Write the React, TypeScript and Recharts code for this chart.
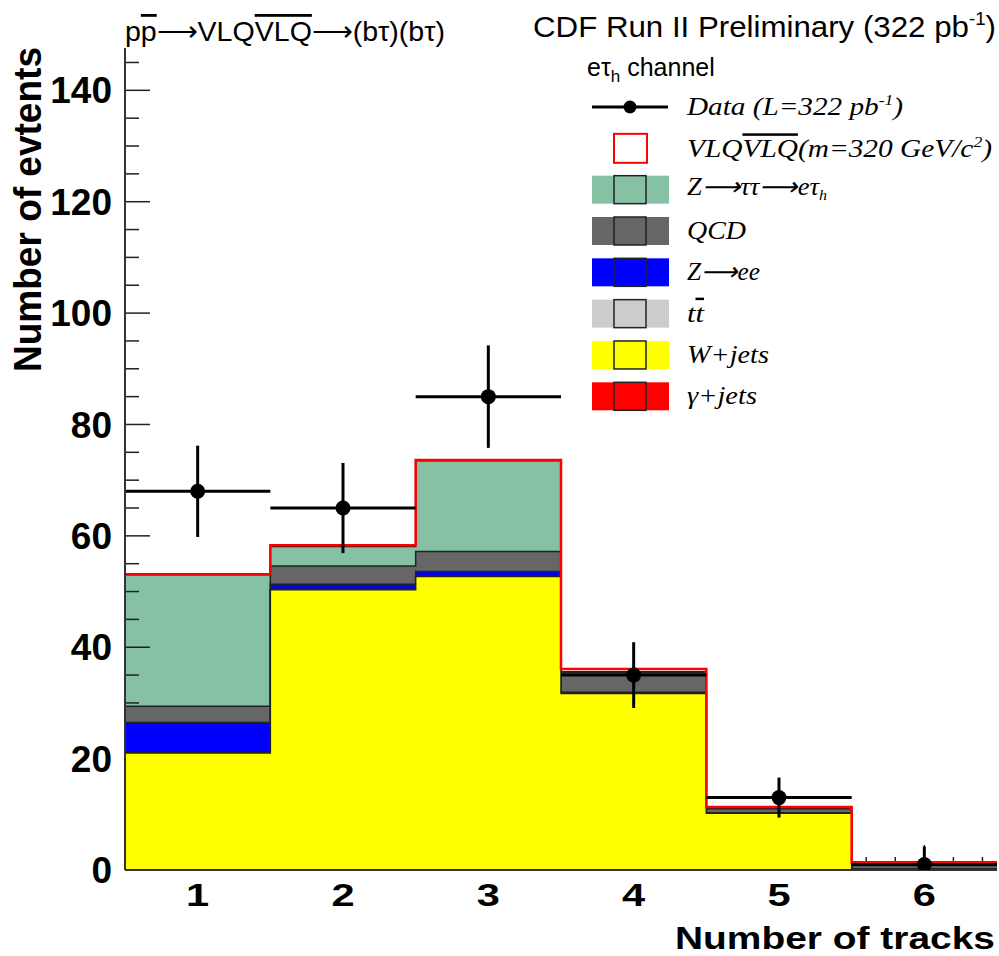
import React from "react";
import { ComposedChart, Area, Line, Scatter, ErrorBar, XAxis, YAxis } from "recharts";

// bin centres (number of tracks)
const bins = [1, 2, 3, 4, 5, 6];

// background components (bottom -> top)
const gammaJets = [0, 0, 0, 0, 0, 0];
const wJets = [21.0, 50.3, 52.7, 31.7, 10.2, 0.2];
const ttbar = [0.1, 0.1, 0.1, 0, 0, 0];
const zee = [5.4, 0.9, 0.8, 0.2, 0.1, 0];
const qcd = [2.9, 3.3, 3.6, 3.5, 0.7, 0.6];
const ztt = [23.6, 3.5, 16.3, 0.2, 0.1, 0.1];
const vlq = [0.1, 0.2, 0.1, 0.5, 0.2, 0.5];

// data points
const dataCounts = [68, 65, 85, 35, 13, 1];
const dataErrDown = [8.2, 8.1, 9.2, 5.9, 3.6, 1.0];
const dataErrUp = [8.2, 8.1, 9.2, 5.9, 3.6, 3.2];
const binHalfWidth = 0.5;

const yTicks = [0, 20, 40, 60, 80, 100, 120, 140];
const yMinorTicks = [5, 10, 15, 25, 30, 35, 45, 50, 55, 65, 70, 75, 85, 90, 95, 105, 110, 115, 125, 130, 135, 145];
const xTicks = [1, 2, 3, 4, 5, 6];
const xMinorTicks = [0.6, 0.8, 1.2, 1.4, 1.6, 1.8, 2.2, 2.4, 2.6, 2.8, 3.2, 3.4, 3.6, 3.8, 4.2, 4.4, 4.6, 4.8, 5.2, 5.4, 5.6, 5.8, 6.2, 6.4];
const xDomain = [0.5, 6.5];
const yDomain = [0, 147.6];

const SANS = "'Liberation Sans', Arial, Helvetica, sans-serif";
const SERIF = "'Liberation Serif', 'Times New Roman', serif";

const GREEN = "#86c1a3";
const DARK = "#666666";
const BLUE = "#0000ff";
const LIGHT = "#cccccc";
const YELLOW = "#ffff00";
const RED = "#ff0000";

// cumulative stack at bin edges, for step drawing
const layers = [gammaJets, wJets, ttbar, zee, qcd, ztt, vlq];
const layerKeys = ["gam", "wjets", "tt", "zee", "qcd", "ztt", "vlq"];
const histRows = Array.from({ length: bins.length + 1 }, (_, i) => {
  const j = Math.min(i, bins.length - 1);
  const row: { [k: string]: number } = {
    x: i < bins.length ? bins[i] - binHalfWidth : bins[j] + binHalfWidth,
  };
  let sum = 0;
  layers.forEach((arr, k) => {
    sum += arr[j];
    row[layerKeys[k]] = +sum.toFixed(2);
  });
  return row;
});

const points = bins.map((b, i) => ({
  x: b,
  y: dataCounts[i],
  yErr: [dataErrDown[i], dataErrUp[i]],
  xErr: binHalfWidth,
}));

const XTick = (props: any) => {
  const { x, y, payload } = props;
  return (
    <g transform={`translate(${x},${y})`}>
      <text x={0} y={0} dy={23} textAnchor="middle" fontSize={32} fontWeight="bold"
        fontFamily={SANS} fill="#000" transform="scale(1.3,1)">
        {payload.value}
      </text>
    </g>
  );
};
const noLabel = () => <g />;

const marker = (props: any) => <circle cx={props.cx} cy={props.cy} r={7.5} fill="#000" />;

const tickStroke = { stroke: "#222", strokeWidth: 1.5 };
const frameLine = { stroke: "#333", strokeWidth: 2 };
const histStroke = "#222";

const legendFills = [GREEN, DARK, BLUE, LIGHT, YELLOW, RED];

function Overlay() {
  const rowY = (i: number) => 107 + 41.33 * i;
  return (
    <svg width={999} height={956} style={{ position: "absolute", left: 0, top: 0, pointerEvents: "none" }}>
      {/* titles */}
      <text x={125} y={41} fontSize={28} fontFamily={SANS} fill="#000" textLength={320} lengthAdjust="spacingAndGlyphs">
        p<tspan style={{ textDecoration: "overline" }}>p</tspan>⟶VLQ<tspan style={{ textDecoration: "overline" }}>VLQ</tspan>⟶(bτ)(bτ)
      </text>
      <text x={533} y={37} fontSize={30} fontFamily={SANS} fill="#000" textLength={463} lengthAdjust="spacingAndGlyphs">
        CDF Run II Preliminary (322 pb<tspan dy={-12} fontSize={18}>-1</tspan><tspan dy={12}>)</tspan>
      </text>
      {/* axis titles */}
      <text transform="translate(41,47) rotate(-90)" textAnchor="end" fontSize={38} fontWeight="bold"
        fontFamily={SANS} fill="#000" textLength={325} lengthAdjust="spacingAndGlyphs">
        Number of evtents
      </text>
      <text x={995} y={949} textAnchor="end" fontSize={31} fontWeight="bold" fontFamily={SANS} fill="#000"
        textLength={320} lengthAdjust="spacingAndGlyphs">
        Number of tracks
      </text>
      {/* legend */}
      <text x={587} y={76} fontSize={25} fontFamily={SANS} fill="#000">
        eτ<tspan dy={6} fontSize={17}>h</tspan><tspan dy={-6}> channel</tspan>
      </text>
      <line x1={592} x2={668} y1={rowY(0)} y2={rowY(0)} stroke="#000" strokeWidth={3} />
      <circle cx={630} cy={rowY(0)} r={6.5} fill="#000" />
      <rect x={614} y={rowY(1) - 14.5} width={33} height={29} fill="#fff" stroke={RED} strokeWidth={2} />
      {legendFills.map((c, i) => (
        <g key={i}>
          <rect x={592} y={rowY(i + 2) - 14} width={77} height={28} fill={c} />
          <rect x={614} y={rowY(i + 2) - 14} width={32} height={28} fill="none" stroke="#222" strokeWidth={1.5} />
        </g>
      ))}
      <g fontFamily={SERIF} fontStyle="italic" fontSize={25} fill="#000">
        <text x={687} y={rowY(0) + 8} textLength={216} lengthAdjust="spacingAndGlyphs">
          Data (L=322 pb<tspan dy={-10} fontSize={15}>-1</tspan><tspan dy={10}>)</tspan>
        </text>
        <text x={687} y={rowY(1) + 9} textLength={305} lengthAdjust="spacingAndGlyphs">
          VLQ<tspan style={{ textDecoration: "overline" }}>VLQ</tspan>(m=320 GeV/c<tspan dy={-10} fontSize={15}>2</tspan><tspan dy={10}>)</tspan>
        </text>
        <text x={687} y={rowY(2) + 5} textLength={140} lengthAdjust="spacingAndGlyphs">
          Z⟶ττ⟶eτ<tspan dy={5} fontSize={15}>h</tspan>
        </text>
        <text x={687} y={rowY(3) + 8} textLength={59} lengthAdjust="spacingAndGlyphs">QCD</text>
        <text x={687} y={rowY(4) + 8} textLength={73} lengthAdjust="spacingAndGlyphs">Z⟶ee</text>
        <text x={687} y={rowY(5) + 8} textLength={17} lengthAdjust="spacingAndGlyphs">
          t<tspan style={{ textDecoration: "overline" }}>t</tspan>
        </text>
        <text x={687} y={rowY(6) + 8} textLength={82} lengthAdjust="spacingAndGlyphs">W+jets</text>
        <text x={687} y={rowY(7) + 8} textLength={70} lengthAdjust="spacingAndGlyphs">γ+jets</text>
      </g>
    </svg>
  );
}

export default function App() {
  return (
    <div style={{ position: "absolute", left: 0, top: 0, width: 999, height: 956, background: "#fff" }}>
      <ComposedChart width={999} height={956} data={histRows} margin={{ top: 48, right: 2, bottom: 0, left: 0 }}>
        <XAxis dataKey="x" type="number" domain={xDomain} allowDataOverflow ticks={xTicks} interval={0}
          tickLine={false} tickSize={0} tickMargin={13} tick={<XTick />} axisLine={frameLine} height={86} />
        <XAxis xAxisId="top" dataKey="x" orientation="top" type="number" domain={xDomain} allowDataOverflow height={0}
          tick={noLabel} tickLine={false} axisLine={frameLine} />
        <YAxis type="number" domain={yDomain} allowDataOverflow ticks={yTicks} interval={0} width={125}
          tickLine={false} tickSize={0} tickMargin={13} axisLine={frameLine}
          tick={{ fontSize: 37, fontWeight: "bold", fill: "#000", fontFamily: SANS }} />
        <YAxis yAxisId="right" orientation="right" type="number" domain={yDomain} allowDataOverflow width={0}
          tick={noLabel} tickLine={false} axisLine={frameLine} />

        <Area type="stepAfter" dataKey="ztt" fill={GREEN} fillOpacity={1} stroke={histStroke} strokeWidth={1.5}
          dot={false} activeDot={false} isAnimationActive={false} zIndex={100} />

        {/* inward ticks, drawn above the top (Z->tautau) fill and below the others */}
        <XAxis xAxisId="minorX" dataKey="x" mirror type="number" domain={xDomain} allowDataOverflow ticks={xMinorTicks}
          interval={0} height={1} tickSize={12} tick={noLabel} axisLine={false} tickLine={tickStroke} zIndex={150} />
        <XAxis xAxisId="majorX" dataKey="x" mirror type="number" domain={xDomain} allowDataOverflow ticks={xTicks}
          interval={0} height={1} tickSize={25} tick={noLabel} axisLine={false} tickLine={tickStroke} zIndex={150} />
        <YAxis yAxisId="minorY" mirror type="number" domain={yDomain} allowDataOverflow ticks={yMinorTicks} interval={0}
          width={1} tickSize={13} tick={noLabel} axisLine={false} tickLine={tickStroke} zIndex={150} />
        <YAxis yAxisId="majorY" mirror type="number" domain={yDomain} allowDataOverflow ticks={yTicks} interval={0}
          width={1} tickSize={25} tick={noLabel} axisLine={false} tickLine={tickStroke} zIndex={150} />

        {/* invisible series so the frame / tick axes get a scale */}
        <Line xAxisId="top" yAxisId="right" dataKey="gam" stroke="none" dot={false} activeDot={false}
          isAnimationActive={false} />
        <Line xAxisId="minorX" yAxisId="minorY" dataKey="gam" stroke="none" dot={false} activeDot={false}
          isAnimationActive={false} />
        <Line xAxisId="majorX" yAxisId="majorY" dataKey="gam" stroke="none" dot={false} activeDot={false}
          isAnimationActive={false} />

        <Area type="stepAfter" dataKey="qcd" fill={DARK} fillOpacity={1} stroke={histStroke} strokeWidth={1.5}
          dot={false} activeDot={false} isAnimationActive={false} zIndex={200} />
        <Area type="stepAfter" dataKey="zee" fill={BLUE} fillOpacity={1} stroke={histStroke} strokeWidth={1.5}
          dot={false} activeDot={false} isAnimationActive={false} zIndex={200} />
        <Area type="stepAfter" dataKey="tt" fill={LIGHT} fillOpacity={1} stroke={histStroke} strokeWidth={1.5}
          dot={false} activeDot={false} isAnimationActive={false} zIndex={200} />
        <Area type="stepAfter" dataKey="wjets" fill={YELLOW} fillOpacity={1} stroke={histStroke} strokeWidth={1.5}
          dot={false} activeDot={false} isAnimationActive={false} zIndex={200} />
        <Area type="stepAfter" dataKey="gam" fill={RED} fillOpacity={1} stroke={histStroke} strokeWidth={1.5}
          dot={false} activeDot={false} isAnimationActive={false} zIndex={200} />
        <Line type="stepAfter" dataKey="vlq" stroke={RED} strokeWidth={2.5} dot={false} activeDot={false}
          isAnimationActive={false} zIndex={400} />

        <Scatter data={points} dataKey="y" shape={marker} isAnimationActive={false}>
          <ErrorBar dataKey="xErr" direction="x" width={0} stroke="#000" strokeWidth={3} isAnimationActive={false} />
          <ErrorBar dataKey="yErr" direction="y" width={0} stroke="#000" strokeWidth={3} isAnimationActive={false} />
        </Scatter>
      </ComposedChart>
      <Overlay />
    </div>
  );
}
